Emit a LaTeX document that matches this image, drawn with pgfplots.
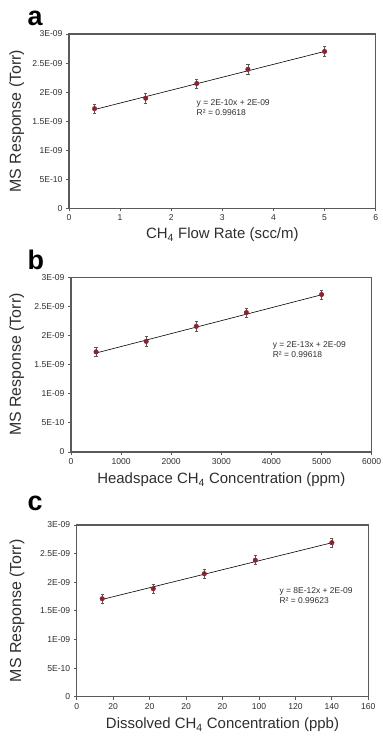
\documentclass[border=0pt]{standalone}
\usepackage{pgfplots}
\pgfplotsset{compat=1.18}
\usepackage{fontspec}
\setmainfont{Liberation Sans}
\definecolor{mk}{HTML}{8B2232}
\definecolor{ax}{HTML}{5A5A5A}
\definecolor{tx}{HTML}{2E2E2E}
\pgfplotsset{
 panel/.style={
  scale only axis, anchor=south west,
  axis line style={ax, line width=1.1pt},
  tick style={ax, line width=0.8pt},
  tick align=outside, tick pos=left, major tick length=3bp,
  ymin=0, ymax=3e-9, ytick={0,5e-10,1e-9,1.5e-9,2e-9,2.5e-9,3e-9},
  yticklabels={0,5E-10,1E-09,1.5E-09,2E-09,2.5E-09,3E-09},
  scaled y ticks=false, scaled x ticks=false,
  /pgf/number format/assume math mode=true,
  /pgf/number format/1000 sep={},
  ticklabel style={font=\fontsize{8.6}{9}\selectfont, text=tx},
  xlabel style={font=\fontsize{15}{18}\selectfont, text=tx},
  ylabel style={font=\fontsize{16}{18}\selectfont, text=tx},
  clip=false,
 },
 eb/.style={only marks, mark=*, mark size=2.3bp, color=mk, mark options={fill=mk, draw=mk},
  error bars/.cd, y dir=both, y explicit,
  error bar style={ax, line width=0.6pt},
  error mark options={rotate=90, mark size=1.6bp, ax, line width=0.6pt}},
 fit/.style={black, line width=0.6pt},
}
\tikzset{eq/.style={anchor=west, align=left, font=\fontsize{8.5}{10.5}\selectfont, text=tx}}
\begin{document}
\begin{tikzpicture}
\path[use as bounding box] (0,0) rectangle (383bp,-737bp);
\node[font=\fontsize{27}{27}\selectfont\bfseries, anchor=base west] at (24bp,-25bp) {a};
\node[font=\fontsize{27}{27}\selectfont\bfseries, anchor=base west] at (24bp,-269bp) {b};
\node[font=\fontsize{27}{27}\selectfont\bfseries, anchor=base west] at (24bp,-510bp) {c};

% Panel a
\begin{axis}[panel, at={(69bp,-208.3bp)}, width=306.7bp, height=174.3bp,
  xmin=0, xmax=6, xtick={0,1,2,3,4,5,6},
  xlabel={CH\textsubscript{4} Flow Rate (scc/m)},
  ylabel={MS Response (Torr)},
  xlabel style={at={(axis description cs:0.5,-0.153)}, anchor=center},
  ylabel style={at={(axis description cs:-0.17,0.5)}, anchor=center}]
\addplot[fit] coordinates {(0.5,1.70e-9) (5,2.70e-9)};
\addplot[eb] table[y error=e] {
x y e
0.5 1.715e-9 0.08e-9
1.5 1.895e-9 0.08e-9
2.5 2.148e-9 0.08e-9
3.5 2.392e-9 0.08e-9
5.0 2.700e-9 0.08e-9
};
\node[eq] at (axis cs:2.43,1.73e-9) {y = 2E-10x + 2E-09\\R² = 0.99618};
\end{axis}

% Panel b
\begin{axis}[panel, at={(71bp,-452bp)}, width=300.7bp, height=174.7bp,
  xmin=0, xmax=6000, xtick={0,1000,2000,3000,4000,5000,6000},
  xlabel={Headspace CH\textsubscript{4} Concentration (ppm)},
  ylabel={MS Response (Torr)},
  xlabel style={at={(axis description cs:0.5,-0.16)}, anchor=center},
  ylabel style={at={(axis description cs:-0.18,0.5)}, anchor=center}]
\addplot[fit] coordinates {(500,1.70e-9) (5000,2.70e-9)};
\addplot[eb] table[y error=e] {
x y e
500 1.720e-9 0.08e-9
1500 1.900e-9 0.08e-9
2500 2.158e-9 0.08e-9
3500 2.395e-9 0.08e-9
5000 2.705e-9 0.08e-9
};
\node[eq] at (axis cs:3957,1.76e-9) {y = 2E-13x + 2E-09\\R² = 0.99618};
\end{axis}

% Panel c
\begin{axis}[panel, at={(76.7bp,-696.7bp)}, width=291.6bp, height=171.7bp,
  xmin=0, xmax=160, xtick={0,20,40,60,80,100,120,140,160},
  xticklabels={0,20,20,20,20,100,120,140,160},
  xlabel={Dissolved CH\textsubscript{4} Concentration (ppb)},
  ylabel={MS Response (Torr)},
  xlabel style={at={(axis description cs:0.5,-0.165)}, anchor=center},
  ylabel style={at={(axis description cs:-0.205,0.5)}, anchor=center}]
\addplot[fit] coordinates {(14,1.70e-9) (140,2.69e-9)};
\addplot[eb] table[y error=e] {
x y e
14 1.712e-9 0.08e-9
42 1.887e-9 0.08e-9
70 2.149e-9 0.08e-9
98 2.385e-9 0.08e-9
140 2.691e-9 0.08e-9
};
\node[eq] at (axis cs:109.4,1.77e-9) {y = 8E-12x + 2E-09\\R² = 0.99623};
\end{axis}
\end{tikzpicture}
\end{document}
